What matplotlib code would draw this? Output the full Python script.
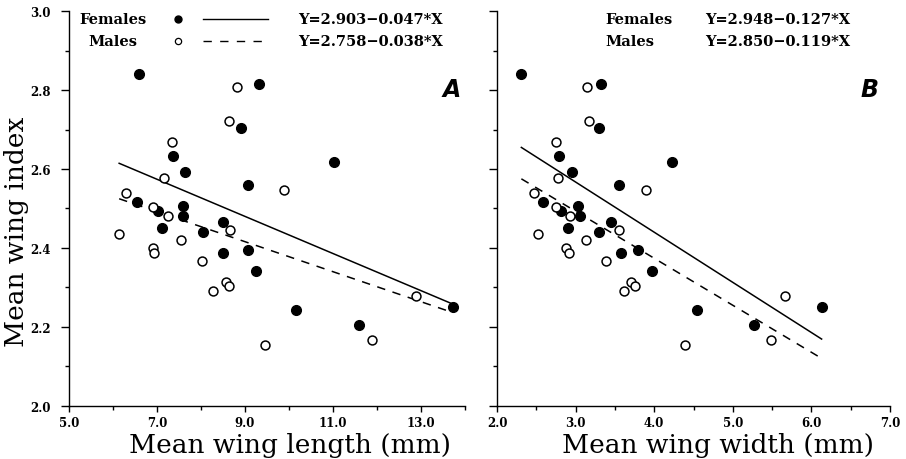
import numpy as np
import matplotlib
matplotlib.use('Agg')
import matplotlib.pyplot as plt
from matplotlib.ticker import FormatStrFormatter
from matplotlib.font_manager import FontProperties

# wing index / size data
femaleIndex = [2.840, 2.815, 2.703, 2.634, 2.593, 2.559, 2.516, 2.493, 2.507, 2.480,
               2.465, 2.450, 2.440, 2.387, 2.395, 2.343, 2.243, 2.617, 2.205, 2.250]
femaleLength = [6.60, 9.32, 8.91, 7.37, 7.64, 9.06, 6.54, 7.02, 7.58, 7.58,
                8.49, 7.11, 8.05, 8.51, 9.06, 9.25, 10.15, 11.03, 11.58, 13.73]
femaleWidth = [2.31, 3.32, 3.30, 2.79, 2.95, 3.55, 2.59, 2.81, 3.03, 3.05,
               3.45, 2.90, 3.30, 3.58, 3.80, 3.97, 4.55, 4.23, 5.27, 6.13]

maleIndex = [2.807, 2.722, 2.668, 2.576, 2.539, 2.505, 2.480, 2.446, 2.435, 2.419,
             2.399, 2.387, 2.368, 2.292, 2.313, 2.303, 2.155, 2.548, 2.167, 2.278]
maleLength = [8.81, 8.64, 7.35, 7.17, 6.30, 6.92, 7.26, 8.66, 6.14, 7.55,
              6.90, 6.94, 8.03, 8.28, 8.57, 8.64, 9.45, 9.89, 11.88, 12.89]
maleWidth = [3.15, 3.17, 2.75, 2.78, 2.47, 2.75, 2.93, 3.55, 2.52, 3.13,
             2.88, 2.91, 3.39, 3.61, 3.71, 3.76, 4.39, 3.89, 5.49, 5.66]

# regression fits (intercept, slope) as printed on the chart
fitLengthFemale = (2.903, -0.047)
fitLengthMale = (2.758, -0.038)
fitWidthFemale = (2.948, -0.127)
fitWidthMale = (2.850, -0.119)

labelsSex = ['Females', 'Males']

W, H = 906, 460
tickFont = {'family': 'DejaVu Serif', 'weight': 'bold', 'size': 8.5}
legendFont = {'family': 'DejaVu Serif', 'weight': 'bold', 'size': 10.5}


def eqText(fit):
    return 'Y=%.3f\u2212%.3f*X' % (fit[0], -fit[1])


def setupAxes(ax, xMajor, xMinor, showYLabels):
    ax.set_ylim(2.0, 3.0)
    ax.set_xlim(xMajor[0], max(xMajor[-1], xMinor[-1]))
    ax.set_xticks(xMajor)
    ax.set_xticks(xMinor, minor=True)
    ax.set_yticks(np.arange(2.0, 3.01, 0.2))
    ax.set_yticks(np.arange(2.1, 3.0, 0.2), minor=True)
    ax.xaxis.set_major_formatter(FormatStrFormatter('%.1f'))
    ax.yaxis.set_major_formatter(FormatStrFormatter('%.1f'))
    for s in ['top', 'right']:
        ax.spines[s].set_visible(False)
    for s in ['left', 'bottom']:
        ax.spines[s].set_linewidth(1.0)
    ax.tick_params(axis='y', which='major', length=6, width=1.0, pad=7)
    ax.tick_params(axis='y', which='minor', length=3, width=1.0)
    ax.tick_params(axis='x', which='major', length=4.5, width=1.0, pad=3)
    ax.tick_params(axis='x', which='minor', length=3, width=1.0)
    if not showYLabels:
        ax.tick_params(axis='y', labelleft=False)
    for lab in ax.get_xticklabels() + ax.get_yticklabels():
        lab.set_fontproperties(FontProperties(**tickFont))


def drawPanel(ax, xf, yf, xm, ym, fitF, fitM):
    xAll = xf + xm
    xs = np.array([min(xAll), max(xAll)])
    ax.plot(xs, fitF[0] + fitF[1] * xs, color='black', lw=1.1)
    ax.plot(xs, fitM[0] + fitM[1] * xs, color='black', lw=1.1, dashes=(5.5, 5))
    ax.plot(xf, yf, 'o', color='black', ms=7, mec='black', ls='none')
    ax.plot(xm, ym, 'o', mfc='white', mec='black', ms=6.4, mew=1.1, ls='none')


fig = plt.figure(figsize=(W / 100, H / 100), dpi=100)
axA = fig.add_axes([69 / W, 53 / H, 396 / W, 395 / H])
axB = fig.add_axes([497 / W, 53 / H, 393 / W, 395 / H])

drawPanel(axA, femaleLength, femaleIndex, maleLength, maleIndex, fitLengthFemale, fitLengthMale)
drawPanel(axB, femaleWidth, femaleIndex, maleWidth, maleIndex, fitWidthFemale, fitWidthMale)

setupAxes(axA, np.arange(5.0, 13.1, 2.0), np.arange(6.0, 14.1, 2.0), True)
setupAxes(axB, np.arange(2.0, 7.1, 1.0), np.arange(2.5, 6.6, 1.0), False)

# legend block, panel A
rowY = [0.98, 0.924]
for i, lab in enumerate(labelsSex):
    axA.text(0.111, rowY[i], lab, transform=axA.transAxes, ha='center', va='center', **legendFont)
axA.plot([0.275], [rowY[0]], 'o', color='black', ms=5, transform=axA.transAxes, clip_on=False)
axA.plot([0.275], [rowY[1]], 'o', mfc='white', mec='black', ms=4.5, mew=0.9,
         transform=axA.transAxes, clip_on=False)
axA.plot([0.338, 0.503], [rowY[0]] * 2, color='black', lw=1.0, transform=axA.transAxes, clip_on=False)
axA.plot([0.338, 0.503], [rowY[1]] * 2, color='black', lw=1.0, dashes=(6, 6),
         transform=axA.transAxes, clip_on=False)
axA.text(0.578, rowY[0], eqText(fitLengthFemale), transform=axA.transAxes, va='center', **legendFont)
axA.text(0.578, rowY[1], eqText(fitLengthMale), transform=axA.transAxes, va='center', **legendFont)

# legend block, panel B
for i, lab in enumerate(labelsSex):
    axB.text(0.275, rowY[i], lab, transform=axB.transAxes, va='center', **legendFont)
axB.text(0.529, rowY[0], eqText(fitWidthFemale), transform=axB.transAxes, va='center', **legendFont)
axB.text(0.529, rowY[1], eqText(fitWidthMale), transform=axB.transAxes, va='center', **legendFont)

panelFont = {'family': 'DejaVu Sans', 'weight': 'heavy', 'style': 'italic', 'size': 17}
axA.text(0.99, 0.803, 'A', transform=axA.transAxes, ha='right', va='center', **panelFont)
axB.text(0.972, 0.803, 'B', transform=axB.transAxes, ha='right', va='center', **panelFont)

labelFont = {'family': 'DejaVu Serif', 'size': 19}
fig.text(290 / W, 1 - 446 / H, 'Mean wing length (mm)', ha='center', va='center', **labelFont)
fig.text(718 / W, 1 - 446 / H, 'Mean wing width (mm)', ha='center', va='center', **labelFont)
fig.text(17 / W, 1 - 232 / H, 'Mean wing index', rotation=90, ha='center', va='center', **labelFont)

plt.savefig('out.png', dpi=100)
plt.close()
